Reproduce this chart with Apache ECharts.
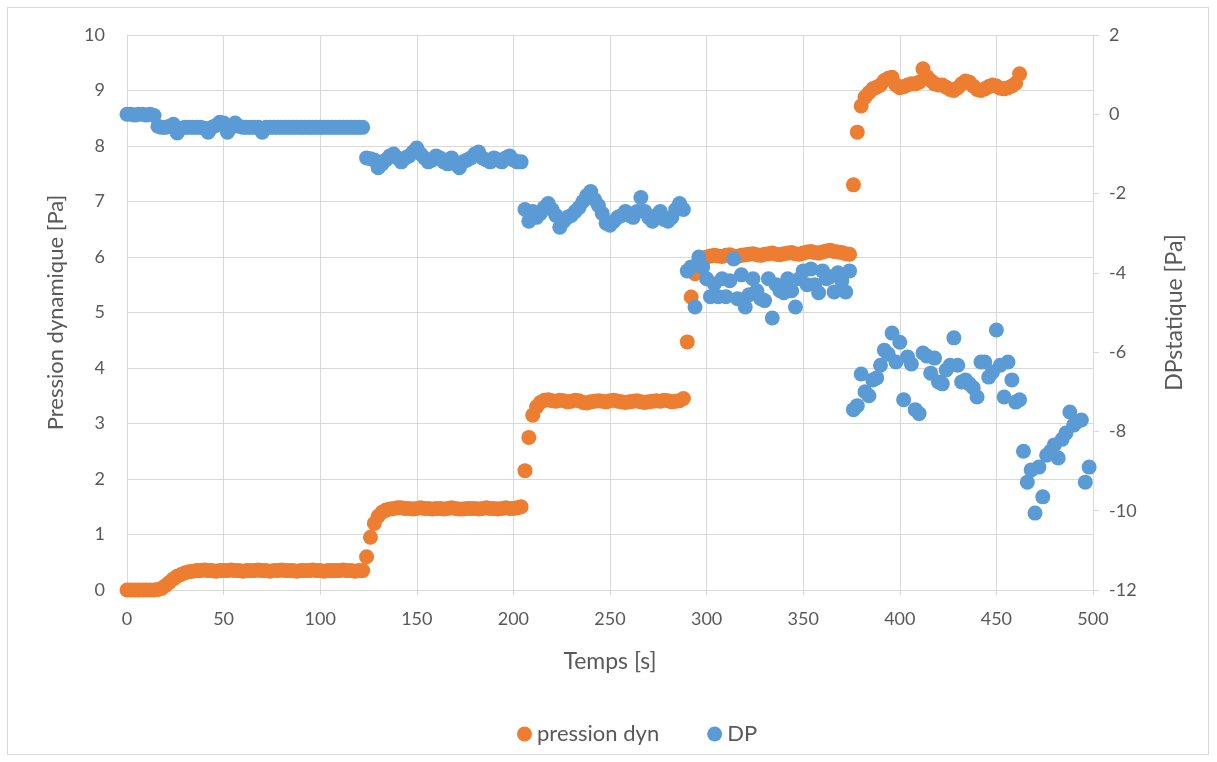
<!DOCTYPE html>
<html>
<head>
<meta charset="utf-8">
<script src="https://cdn.jsdelivr.net/npm/echarts@6/dist/echarts.min.js"></script>
<style>
html,body{margin:0;padding:0;background:#fff;}
#wrap{position:absolute;left:7px;top:7px;width:1202px;height:748px;border:1px solid #d9d9d9;box-sizing:border-box;}
#chart{position:absolute;left:0;top:0;width:1217px;height:762px;}
</style>
</head>
<body>
<div id="wrap"></div>
<div id="chart"></div>
<script>
// X-axis / Y-axis ticks
const xTicks = [0, 50, 100, 150, 200, 250, 300, 350, 400, 450, 500];
const leftTicks = [0, 1, 2, 3, 4, 5, 6, 7, 8, 9, 10];
const rightTicks = [-12, -10, -8, -6, -4, -2, 0, 2];

// pression dyn [Pa] (left axis)
const dynTime = [
0,2,4,6,8,10,12,14,16,18,20,22,24,26,28,30,32,34,36,38,40,42,44,46,48,50,52,54,56,58,60,62,64,66,68,70,72,74,76,78,80,82,84,86,88,90,92,94,96,98,
100,102,104,106,108,110,112,114,116,118,120,122,124,126,128,130,132,134,136,138,140,142,144,146,148,150,152,154,156,158,160,162,164,166,168,170,172,174,176,178,180,182,184,186,188,190,192,194,196,198,
200,202,204,206,208,210,212,214,216,218,220,222,224,226,228,230,232,234,236,238,240,242,244,246,248,250,252,254,256,258,260,262,264,266,268,270,272,274,276,278,280,282,284,286,288,290,292,294,296,298,
300,302,304,306,308,310,312,314,316,318,320,322,324,326,328,330,332,334,336,338,340,342,344,346,348,350,352,354,356,358,360,362,364,366,368,370,372,374,376,378,380,382,384,386,388,390,392,394,396,398,
400,402,404,406,408,410,412,414,416,418,420,422,424,426,428,430,432,434,436,438,440,442,444,446,448,450,452,454,456,458,460,462
];
const dynValue = [
0,0,0,0,0,0,0,0,0.01,0.03,0.08,0.14,0.2,0.25,0.28,0.31,0.33,0.34,0.35,0.35,0.36,0.35,0.35,0.34,0.35,0.35,0.35,0.36,0.35,0.35,0.34,0.35,0.35,0.35,0.36,0.35,0.35,0.34,0.35,0.35,0.36,0.35,0.35,0.35,0.34,0.35,0.35,0.35,0.36,0.35,
0.35,0.34,0.35,0.35,0.35,0.35,0.36,0.35,0.35,0.34,0.35,0.35,0.6,0.95,1.2,1.33,1.4,1.44,1.46,1.47,1.48,1.48,1.47,1.47,1.46,1.47,1.48,1.47,1.47,1.46,1.47,1.47,1.46,1.47,1.48,1.47,1.46,1.46,1.47,1.47,1.47,1.46,1.47,1.48,1.47,1.47,1.46,1.47,1.48,1.47,
1.47,1.48,1.5,2.15,2.75,3.15,3.3,3.38,3.42,3.43,3.41,3.4,3.42,3.41,3.39,3.4,3.42,3.41,3.38,3.37,3.39,3.4,3.41,3.4,3.39,3.41,3.42,3.4,3.39,3.38,3.39,3.4,3.41,3.39,3.38,3.39,3.4,3.41,3.4,3.42,3.41,3.39,3.4,3.41,3.45,4.47,5.28,5.7,5.92,5.98,
6.0,6.02,6.03,6.02,6.01,6.03,6.04,6.02,6.01,6.03,6.04,6.05,6.06,6.04,6.03,6.05,6.06,6.07,6.05,6.04,6.06,6.07,6.08,6.06,6.05,6.07,6.09,6.1,6.08,6.07,6.09,6.11,6.12,6.1,6.09,6.08,6.06,6.05,7.3,8.25,8.72,8.88,8.96,9.03,9.06,9.1,9.18,9.22,9.24,9.1,
9.05,9.07,9.1,9.12,9.12,9.15,9.39,9.25,9.18,9.12,9.1,9.1,9.06,9.02,9.0,9.05,9.12,9.17,9.15,9.08,9.02,9.0,9.03,9.07,9.1,9.08,9.04,9.03,9.05,9.08,9.13,9.3
];

// DP [Pa] (right axis)
const dpTime = [
0,2,4,6,8,10,12,14,16,18,20,22,24,26,28,30,32,34,36,38,40,42,44,46,48,50,52,54,56,58,60,62,64,66,68,70,72,74,76,78,80,82,84,86,88,90,92,94,96,98,
100,102,104,106,108,110,112,114,116,118,120,122,124,126,128,130,132,134,136,138,140,142,144,146,148,150,152,154,156,158,160,162,164,166,168,170,172,174,176,178,180,182,184,186,188,190,192,194,196,198,
200,202,204,206,208,210,212,214,216,218,220,222,224,226,228,230,232,234,236,238,240,242,244,246,248,250,252,254,256,258,260,262,264,266,268,270,272,274,276,278,280,282,284,286,288,290,292,294,296,298,
300,302,304,306,308,310,312,314,316,318,320,322,324,326,328,330,332,334,336,338,340,342,344,346,348,350,352,354,356,358,360,362,364,366,368,370,372,374,376,378,380,382,384,386,388,390,392,394,396,398,
400,402,404,406,408,410,412,414,416,418,420,422,424,426,428,430,432,434,436,438,440,442,444,446,448,450,452,454,456,458,460,462,464,466,468,470,472,474,476,478,480,482,484,486,488,490,492,494,496,498
];
const dpValue = [
0,0,-0.02,0,0,-0.02,0,-0.03,-0.3,-0.33,-0.33,-0.3,-0.25,-0.47,-0.35,-0.33,-0.33,-0.33,-0.33,-0.33,-0.35,-0.45,-0.33,-0.28,-0.2,-0.22,-0.45,-0.33,-0.22,-0.3,-0.33,-0.33,-0.33,-0.33,-0.33,-0.45,-0.33,-0.33,-0.33,-0.33,-0.33,-0.33,-0.33,-0.33,-0.33,-0.33,-0.33,-0.33,-0.33,-0.33,
-0.33,-0.33,-0.33,-0.33,-0.33,-0.33,-0.33,-0.33,-0.33,-0.33,-0.33,-0.33,-1.1,-1.12,-1.15,-1.35,-1.25,-1.15,-1.05,-1.0,-1.1,-1.2,-1.1,-1.05,-0.95,-0.85,-1.0,-1.1,-1.2,-1.15,-1.05,-1.1,-1.2,-1.25,-1.1,-1.25,-1.35,-1.2,-1.15,-1.1,-1.0,-0.95,-1.1,-1.15,-1.2,-1.1,-1.15,-1.2,-1.1,-1.05,
-1.15,-1.2,-1.2,-2.4,-2.7,-2.45,-2.6,-2.5,-2.35,-2.25,-2.4,-2.55,-2.85,-2.7,-2.6,-2.55,-2.45,-2.35,-2.2,-2.05,-1.95,-2.15,-2.3,-2.5,-2.75,-2.8,-2.7,-2.6,-2.55,-2.45,-2.55,-2.6,-2.45,-2.1,-2.45,-2.6,-2.7,-2.55,-2.45,-2.65,-2.7,-2.6,-2.4,-2.25,-2.4,-3.95,-3.85,-4.86,-3.6,-3.85,
-4.15,-4.6,-4.28,-4.6,-4.15,-4.6,-4.2,-3.65,-4.65,-4.05,-4.86,-4.55,-4.15,-4.45,-4.65,-4.7,-4.15,-5.14,-4.3,-4.45,-4.5,-4.15,-4.45,-4.86,-4.15,-3.95,-4.3,-3.9,-4.3,-4.5,-3.95,-4.15,-4.1,-4.48,-4.0,-4.2,-4.48,-3.95,-7.45,-7.35,-6.55,-7.0,-7.1,-6.7,-6.65,-6.33,-5.95,-6.05,-5.52,-6.25,
-5.75,-7.2,-6.12,-6.3,-7.45,-7.55,-6.02,-6.1,-6.53,-6.15,-6.75,-6.8,-6.45,-6.33,-5.64,-6.33,-6.75,-6.7,-6.8,-6.9,-7.13,-6.25,-6.25,-6.63,-6.5,-5.44,-6.33,-7.13,-6.25,-6.7,-7.26,-7.2,-8.5,-9.28,-8.97,-10.06,-8.9,-9.65,-8.6,-8.5,-8.34,-8.67,-8.2,-8.04,-7.51,-7.84,-7.75,-7.71,-9.28,-8.9
];

const FONT = 'Lato';
const TXT = '#595959';
const GRID = '#d9d9d9';

function pairs(t, v) { return t.map((x, i) => [x, v[i]]); }

const chart = echarts.init(document.getElementById('chart'), null, {renderer: 'canvas'});
chart.setOption({
  animation: false,
  textStyle: {fontFamily: FONT},
  grid: {left: 127, right: 124, top: 35, bottom: 172, containLabel: false},
  legend: {
    data: ['pression dyn', 'DP'],
    left: 512, top: 718,
    icon: 'circle', itemWidth: 15, itemHeight: 15, itemGap: 48,
    textStyle: {color: TXT, fontSize: 22, fontFamily: FONT}
  },
  xAxis: {
    type: 'value', min: xTicks[0], max: xTicks[xTicks.length - 1], interval: 50,
    name: 'Temps [s]', nameLocation: 'middle', nameGap: 60,
    nameTextStyle: {color: TXT, fontSize: 23, fontFamily: FONT},
    axisLine: {show: true, lineStyle: {color: GRID}},
    axisTick: {show: true, length: 5, lineStyle: {color: GRID}},
    axisLabel: {color: TXT, fontSize: 18, margin: 20},
    splitLine: {show: true, lineStyle: {color: GRID, width: 1}}
  },
  yAxis: [
    {
      type: 'value', position: 'left', min: leftTicks[0], max: leftTicks[leftTicks.length - 1], interval: 1,
      name: 'Pression dynamique [Pa]', nameLocation: 'middle', nameGap: 60, nameRotate: 90,
      nameTextStyle: {color: TXT, fontSize: 22, fontFamily: FONT},
      axisLine: {show: true, lineStyle: {color: GRID}},
      axisTick: {show: false},
      axisLabel: {color: TXT, fontSize: 18, margin: 22},
      splitLine: {show: true, lineStyle: {color: GRID, width: 1}}
    },
    {
      type: 'value', position: 'right', min: rightTicks[0], max: rightTicks[rightTicks.length - 1], interval: 2,
      name: 'DPstatique [Pa]', nameLocation: 'middle', nameGap: 70, nameRotate: 90,
      nameTextStyle: {color: TXT, fontSize: 23, fontFamily: FONT},
      axisLine: {show: true, lineStyle: {color: GRID}},
      axisTick: {show: true, inside: false, length: 6, lineStyle: {color: GRID}},
      axisLabel: {color: TXT, fontSize: 18, margin: 16},
      splitLine: {show: false}
    }
  ],
  series: [
    {
      name: 'pression dyn', type: 'scatter', yAxisIndex: 0,
      symbol: 'circle', symbolSize: 15,
      itemStyle: {color: '#ED7D31', opacity: 1},
      data: pairs(dynTime, dynValue)
    },
    {
      name: 'DP', type: 'scatter', yAxisIndex: 1,
      symbol: 'circle', symbolSize: 15,
      itemStyle: {color: '#5B9BD5', opacity: 1},
      data: pairs(dpTime, dpValue)
    }
  ]
});
</script>
</body>
</html>
